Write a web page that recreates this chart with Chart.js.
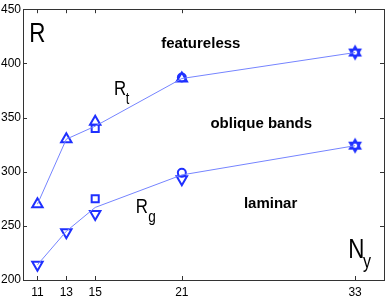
<!DOCTYPE html>
<html><head><meta charset="utf-8">
<script src="https://cdn.jsdelivr.net/npm/chart.js@4/dist/chart.umd.min.js"></script>
<style>html,body{margin:0;padding:0;background:#fff;}#wrap{width:392px;height:297px;}</style>
</head><body><div id="wrap"><canvas id="c" width="392" height="297"></canvas></div>
<script>
// ---- data ----
const nyLine = [11, 13, 15, 21, 33];
const rtLine = [270, 330, 342, 386, 410];
const rgLine = [214, 245, 267, 297, 324];
const triUpNy = [11, 13, 15, 21];
const triUpR = [270, 330, 346, 386];
const triDownNy = [11, 13, 15, 21];
const triDownR = [214, 244, 261, 293];
const squareNy = [15, 15];
const squareR = [340, 275];
const circleNy = [21, 21];
const circleR = [387, 299];
const starNy = [33, 33];
const starR = [410, 324];
const xTicks = [11, 13, 15, 21, 33];
const yTicks = [200, 250, 300, 350, 400, 450];

const pts = (xs, ys) => xs.map((x, i) => ({x: x, y: ys[i]}));

const MARK = '#1f30ff';
const LINE = '#7584ff';

function hexagram(r, lw, color) {
  const s = Math.ceil(2 * r + lw * 2 + 2);
  const c = document.createElement('canvas');
  c.width = s; c.height = s;
  const g = c.getContext('2d');
  g.strokeStyle = color; g.lineWidth = lw;
  const cx = s / 2, cy = s / 2;
  [-Math.PI / 2, Math.PI / 2].forEach(rot => {
    g.beginPath();
    for (let i = 0; i < 3; i++) {
      const a = rot + i * 2 * Math.PI / 3;
      const px = cx + r * Math.cos(a), py = cy + r * Math.sin(a);
      if (i) g.lineTo(px, py); else g.moveTo(px, py);
    }
    g.closePath(); g.stroke();
  });
  return c;
}
const star = hexagram(6, 2, MARK);

// text labels (data coordinates)
const labels = [
  {x: 10.43, y: 420, parts: [{t: 'R', size: 28, dx: 0, dy: 0}], bold: false},
  {x: 16.30, y: 370.9, parts: [{t: 'R', size: 21, dx: 0, dy: 0}, {t: 't', size: 16, dxv: 17.11, dyv: 362.7}], bold: false},
  {x: 17.80, y: 261.8, parts: [{t: 'R', size: 21, dx: 0, dy: 0}, {t: 'g', size: 17, dxv: 18.68, dyv: 253.6}], bold: false},
  {x: 32.53, y: 220, parts: [{t: 'N', size: 28, dx: 0, dy: 0}, {t: 'y', size: 20, dxv: 33.55, dyv: 210.9}], bold: false},
  {x: 19.57, y: 414.5, parts: [{t: 'featureless', size: 15}], bold: true},
  {x: 22.98, y: 340, parts: [{t: 'oblique bands', size: 15}], bold: true},
  {x: 25.30, y: 266.4, parts: [{t: 'laminar', size: 15}], bold: true}
];

const framePlugin = {
  id: 'frame',
  afterDatasetsDraw(chart) {
    const {ctx, chartArea: a, scales: {x, y}} = chart;
    ctx.save();
    ctx.strokeStyle = '#333';
    ctx.lineWidth = 1;
    ctx.strokeRect(Math.round(a.left) + 0.5, Math.round(a.top) + 0.5, Math.round(a.right - a.left), Math.round(a.bottom - a.top));
    ctx.beginPath();
    const tl = 4;
    xTicks.forEach(v => {
      const px = Math.round(x.getPixelForValue(v)) + 0.5;
      ctx.moveTo(px, a.bottom); ctx.lineTo(px, a.bottom - tl);
      ctx.moveTo(px, a.top); ctx.lineTo(px, a.top + tl);
    });
    yTicks.forEach(v => {
      const py = Math.round(y.getPixelForValue(v)) + 0.5;
      ctx.moveTo(a.left, py); ctx.lineTo(a.left + tl, py);
      ctx.moveTo(a.right, py); ctx.lineTo(a.right - tl, py);
    });
    ctx.stroke();
    // labels
    ctx.fillStyle = '#000';
    ctx.textBaseline = 'alphabetic';
    ctx.textAlign = 'left';
    labels.forEach(l => {
      l.parts.forEach(p => {
        const px = p.dxv !== undefined ? x.getPixelForValue(p.dxv) : x.getPixelForValue(l.x);
        const py = p.dyv !== undefined ? y.getPixelForValue(p.dyv) : y.getPixelForValue(l.y);
        ctx.font = (l.bold ? 'bold ' : '') + p.size + 'px "Liberation Sans", Arial, sans-serif';
        ctx.save();
        ctx.translate(px, py);
        if (!l.bold) ctx.scale(0.8, 1);
        ctx.fillText(p.t, 0, 0);
        ctx.restore();
      });
    });
    ctx.restore();
  }
};

const mk = (data, style, radius, extra) => Object.assign({
  data: data, showLine: false, pointStyle: style, pointRadius: radius,
  pointBorderColor: MARK, pointBackgroundColor: 'rgba(0,0,0,0)', pointBorderWidth: 2,
  borderColor: MARK, backgroundColor: 'rgba(0,0,0,0)'
}, extra || {});

new Chart(document.getElementById('c'), {
  type: 'scatter',
  data: {
    datasets: [
      {data: pts(nyLine, rtLine), showLine: true, borderColor: LINE, borderWidth: 1, pointRadius: 0, backgroundColor: LINE},
      {data: pts(nyLine, rgLine), showLine: true, borderColor: LINE, borderWidth: 1, pointRadius: 0, backgroundColor: LINE},
      mk(pts(triUpNy, triUpR), 'triangle', 6),
      mk(pts(triDownNy, triDownR), 'triangle', 6, {pointRotation: 180}),
      mk(pts(squareNy, squareR), 'rect', 5),
      mk(pts(circleNy, circleR), 'circle', 4),
      mk(pts(starNy, starR), star, 6)
    ]
  },
  options: {
    responsive: false,
    animation: false,
    devicePixelRatio: 1,
    layout: {padding: {left: 0, right: 3, top: 6, bottom: 0}},
    plugins: {legend: {display: false}, tooltip: {enabled: false}},
    scales: {
      x: {
        type: 'linear', min: 10, max: 35,
        afterBuildTicks: s => { s.ticks = xTicks.map(v => ({value: v})); },
        afterFit: s => { s.height = 17; },
        grid: {display: false, drawTicks: false},
        border: {display: false},
        ticks: {padding: 5, color: '#000', font: {size: 12, family: '"Liberation Sans", Arial, sans-serif'}, maxRotation: 0, autoSkip: false}
      },
      y: {
        type: 'linear', min: 200, max: 450,
        afterBuildTicks: s => { s.ticks = yTicks.map(v => ({value: v})); },
        afterFit: s => { s.width = 23; },
        grid: {display: false, drawTicks: false},
        border: {display: false},
        ticks: {padding: 2, color: '#000', font: {size: 12, family: '"Liberation Sans", Arial, sans-serif'}}
      }
    }
  },
  plugins: [framePlugin]
});
</script></body></html>
